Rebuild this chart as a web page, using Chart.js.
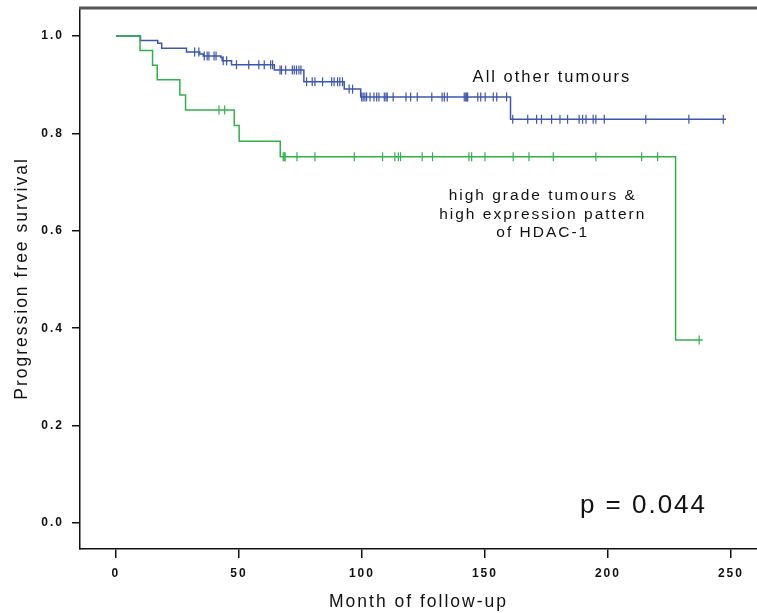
<!DOCTYPE html>
<html>
<head>
<meta charset="utf-8">
<script src="https://cdn.jsdelivr.net/npm/chart.js@4.4.0/dist/chart.umd.min.js"></script>
<style>
	html, body { margin: 0; padding: 0; background: #fff; }
	#wrap { width: 757px; height: 613px; }
</style>
</head>
<body>
<div id="wrap"><canvas id="km"></canvas></div>
<script>
// Kaplan-Meier steps (month, survival)
const blueTimes = [0, 10, 17, 18.6, 28.7, 34.1, 35.5, 42.7, 43.2, 47, 64.4, 76.4, 92.8, 99.5, 160.4];
const blueSurv = [1, 0.991, 0.985, 0.975, 0.967, 0.963, 0.959, 0.956, 0.949, 0.941, 0.930, 0.906, 0.891, 0.875, 0.829];
const blueCensor = [32, 33.7, 35.9, 37.1, 37.8, 39.9, 40.7, 43.6, 45, 49, 54, 58.1, 60.3, 62.9, 63.7,
	66.7, 67.3, 69, 71.7, 72.5, 73.4, 74.4, 75.2, 77.5, 79.8, 80.9, 84, 87.7, 88.7, 90.1, 91, 92.1,
	94.8, 96.2, 99.9, 100.5, 101.2, 101.9, 103.3, 104.9, 106, 106.9, 109.1, 109.8, 110.3, 112.7,
	117.9, 119.8, 122.5, 128.4, 132.6, 133.5, 134.7, 141.6, 142.2, 142.6, 143, 147.1, 148.3, 150.1,
	153.4, 154.8, 158.8, 161.3, 167.4, 171, 173, 177.1, 180.5, 183.6, 188.3, 189.7, 191.1, 194,
	195.1, 198.5, 215.4, 232.9, 246.9];
const blueEnd = 248;

const greenTimes = [0, 9.8, 14.9, 16.8, 26, 28.3, 48.1, 50.1, 66.8, 227.5];
const greenSurv = [1, 0.970, 0.940, 0.910, 0.879, 0.848, 0.816, 0.784, 0.752, 0.376];
const greenCensor = [41.9, 44.2, 68, 68.4, 68.8, 73.6, 80.9, 96.9, 108.4, 113.4, 114.8, 115.7,
	124.5, 128.7, 143.5, 144.6, 150, 161.5, 167.9, 177.8, 195.1, 213.7, 220.2, 237.1];
const greenEnd = 238.5;

const xTicks = [0, 50, 100, 150, 200, 250];
const yTicks = [0, 0.2, 0.4, 0.6, 0.8, 1.0];

const blue = "#3d55ad";
const green = "#2fb24a";

// survival level at time t (step function)
function levelAt(times, surv, t) {
	let s = surv[0];
	for (let i = 0; i < times.length; i++) {
		if (times[i] <= t) s = surv[i];
	}
	return s;
}

function stepPoints(times, surv, end) {
	const pts = times.map((t, i) => ({ x: t, y: surv[i] }));
	pts.push({ x: end, y: surv[surv.length - 1] });
	return pts;
}

function censorPoints(times, surv, cens) {
	return cens.map((t) => ({ x: t, y: levelAt(times, surv, t) }));
}

const censorStyle = {
	showLine: false,
	pointStyle: "line",
	rotation: 90,
	pointRadius: 4.5,
	pointBorderWidth: 1.2,
};

// wide letter spacing like the original, gray frame line on top, free text labels
const extras = {
	id: "extras",
	beforeLayout(chart) {
		chart.ctx.letterSpacing = "2px";
	},
	beforeDraw(chart) {
		chart.ctx.letterSpacing = "2px";
	},
	afterDraw(chart) {
		const ctx = chart.ctx;
		const area = chart.chartArea;
		const xs = chart.scales.x;
		const ys = chart.scales.y;
		ctx.save();
		ctx.strokeStyle = "#555";
		ctx.lineWidth = 3;
		ctx.beginPath();
		ctx.moveTo(area.left - 1, area.top);
		ctx.lineTo(chart.width, area.top);
		ctx.stroke();

		ctx.fillStyle = "#111";
		ctx.textBaseline = "middle";
		ctx.font = "16.5px 'Liberation Sans'";
		ctx.textAlign = "left";
		ctx.fillText("All other tumours", xs.getPixelForValue(145), ys.getPixelForValue(0.914));

		ctx.font = "15.5px 'Liberation Sans'";
		ctx.textAlign = "center";
		const cx = xs.getPixelForValue(173.5);
		ctx.fillText("high grade tumours &", cx, ys.getPixelForValue(0.672));
		ctx.fillText("high expression pattern", cx, ys.getPixelForValue(0.633));
		ctx.fillText("of HDAC-1", cx, ys.getPixelForValue(0.596));

		ctx.font = "26px 'Liberation Sans'";
		ctx.textAlign = "left";
		ctx.fillText("p = 0.044", xs.getPixelForValue(188.6), ys.getPixelForValue(0.035));
		ctx.restore();
	},
};

const tickFont = { family: "Liberation Sans", size: 12, weight: "bold" };
const titleFont = { family: "Liberation Sans", size: 17.5 };

new Chart(document.getElementById("km"), {
	type: "line",
	data: {
		datasets: [
			{
				label: "high grade tumours & high expression pattern of HDAC-1",
				data: stepPoints(greenTimes, greenSurv, greenEnd),
				borderColor: green,
				borderWidth: 1.5,
				stepped: true,
				pointRadius: 0,
				fill: false,
			},
			Object.assign({
				label: "censored (high grade)",
				data: censorPoints(greenTimes, greenSurv, greenCensor),
				borderColor: green,
				backgroundColor: green,
			}, censorStyle),
			{
				label: "All other tumours",
				data: stepPoints(blueTimes, blueSurv, blueEnd),
				borderColor: blue,
				borderWidth: 1.5,
				stepped: true,
				pointRadius: 0,
				fill: false,
			},
			Object.assign({
				label: "censored (other)",
				data: censorPoints(blueTimes, blueSurv, blueCensor),
				borderColor: blue,
				backgroundColor: blue,
			}, censorStyle),
		],
	},
	plugins: [extras],
	options: {
		responsive: true,
		maintainAspectRatio: false,
		animation: false,
		layout: { autoPadding: false, padding: { top: 8, right: 0, left: 0, bottom: 0 } },
		plugins: {
			legend: { display: false },
			tooltip: { enabled: false },
		},
		scales: {
			x: {
				type: "linear",
				min: -14.6,
				max: 260.6,
				afterBuildTicks: (scale) => {
					scale.ticks = xTicks.map((v) => ({ value: v }));
				},
				afterFit: (scale) => {
					scale.height = 64;
					scale.paddingLeft = 0;
					scale.paddingRight = 0;
				},
				grid: {
					display: true,
					drawOnChartArea: false,
					drawTicks: true,
					tickLength: 9,
					color: "#111",
					lineWidth: 1.5,
				},
				border: { display: true, color: "#111", width: 1.5 },
				ticks: {
					font: tickFont,
					color: "#111",
					padding: 8,
					maxRotation: 0,
					callback: (v) => String(v),
				},
				title: {
					display: true,
					text: "Month of follow-up",
					font: titleFont,
					color: "#111",
					padding: { top: 4, bottom: 0 },
				},
			},
			y: {
				type: "linear",
				min: -0.0534,
				max: 1.0575,
				afterBuildTicks: (scale) => {
					scale.ticks = yTicks.map((v) => ({ value: v }));
				},
				afterFit: (scale) => {
					scale.width = 80;
					scale.paddingTop = 0;
					scale.paddingBottom = 0;
				},
				grid: {
					display: true,
					drawOnChartArea: false,
					drawTicks: true,
					tickLength: 8,
					color: "#111",
					lineWidth: 1.5,
				},
				border: { display: true, color: "#111", width: 1.5 },
				ticks: {
					font: tickFont,
					color: "#111",
					padding: 8,
					callback: (v) => v.toFixed(1),
				},
				title: {
					display: true,
					text: "Progression free survival",
					font: titleFont,
					color: "#111",
					padding: { top: 12, bottom: 0 },
				},
			},
		},
	},
});
</script>
</body>
</html>
